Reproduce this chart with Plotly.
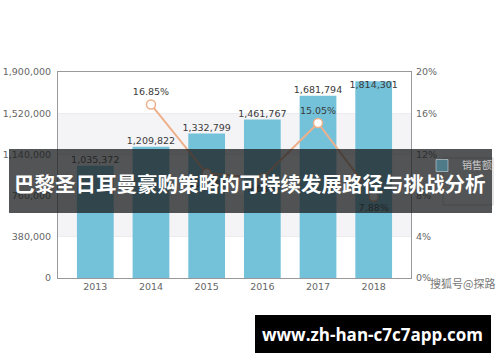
import plotly.graph_objects as go

years = ["2013", "2014", "2015", "2016", "2017", "2018"]
sales = [1035372, 1209822, 1332799, 1461767, 1681794, 1814301]
growth = [None, 0.1685, 0.1016, 0.0968, 0.1505, 0.0788]
sales_ticks = [0, 380000, 760000, 1140000, 1520000, 1900000]
growth_ticks = [0, 0.04, 0.08, 0.12, 0.16, 0.20]
bar_label_pos = ["top center"] * 5 + ["bottom center"]
line_label_pos = ["top center", "top center", "bottom center", "bottom center", "top center", "bottom center"]
title_text = "巴黎圣日耳曼豪购策略的可持续发展路径与挑战分析"
site_text = "www.zh-han-c7c7app.com"
watermark_text = "搜狐号@探路"
legend_name = "销售额"

W, H = 500, 362
L, R, T, B = 58, 89, 72, 84
PW, PH = W - L - R, H - T - B

def px(x):
    return (x - L) / PW

def py(y):
    return (H - B - y) / PH

lab_font = dict(family="DejaVu Sans", size=9.5, color="#3a3a3a")
tick_font = dict(family="DejaVu Sans", size=9.5, color="#666666")

fig = go.Figure()
fig.add_trace(go.Bar(
    x=years, y=sales, name=legend_name, marker=dict(color="#74c2da", line=dict(width=0)),
    width=0.66, yaxis="y", hoverinfo="skip", showlegend=False,
))
# legend-only entry (appears dimmed under the banner in the reference)
fig.add_trace(go.Bar(
    x=[None], y=[None], name=legend_name, marker=dict(color="#4f7a88"),
    yaxis="y", hoverinfo="skip", showlegend=True,
))
fig.add_trace(go.Scatter(
    x=years, y=sales, mode="text", text=[f"{v:,}" for v in sales],
    textposition=bar_label_pos, textfont=lab_font, showlegend=False,
    yaxis="y", cliponaxis=False, hoverinfo="skip",
))
fig.add_trace(go.Scatter(
    x=years, y=growth, name="增长率", mode="lines+markers+text",
    line=dict(color="#eeb08a", width=2),
    marker=dict(symbol="circle", size=9, color="white", line=dict(color="#eeb08a", width=1.5)),
    text=[("" if g is None else f"{g*100:.2f}%") for g in growth],
    textposition=line_label_pos, textfont=lab_font, yaxis="y2",
    cliponaxis=False, hoverinfo="skip", showlegend=False,
))

shapes = []
# alternating bands
for i in range(len(sales_ticks) - 1):
    if i % 2 == 1:
        shapes.append(dict(type="rect", xref="paper", yref="y", x0=0, x1=1,
                           y0=sales_ticks[i], y1=sales_ticks[i + 1],
                           fillcolor="#f4f4f7", line=dict(width=0), layer="below"))
# legend box
shapes.append(dict(type="rect", xref="paper", yref="paper", x0=px(443), x1=px(493),
                   y0=py(205), y1=py(158), fillcolor="rgba(255,255,255,0)",
                   line=dict(color="#cccccc", width=1), layer="above"))
# banner
shapes.append(dict(type="rect", xref="paper", yref="paper", x0=px(9), x1=px(492),
                   y0=py(213), y1=py(149), fillcolor="rgba(28,30,32,0.76)",
                   line=dict(width=0), layer="above"))
# bottom site box
shapes.append(dict(type="rect", xref="paper", yref="paper", x0=px(255), x1=px(491),
                   y0=py(353), y1=py(315), fillcolor="#000000",
                   line=dict(width=0), layer="above"))

annotations = [
    dict(text=title_text, xref="paper", yref="paper", x=px(250), y=py(183),
         xanchor="center", yanchor="middle", showarrow=False,
         font=dict(family="Noto Sans CJK SC", size=20.5, color="white", weight="bold")),
    dict(text=site_text, xref="paper", yref="paper", x=px(372), y=py(334),
         xanchor="center", yanchor="middle", showarrow=False,
         font=dict(family="Open Sans", size=17, color="white", weight="bold")),
    dict(text=watermark_text, xref="paper", yref="paper", x=px(428), y=py(283),
         xanchor="left", yanchor="middle", showarrow=False,
         font=dict(family="Noto Sans CJK SC", size=11, color="#777777")),
]

fig.update_layout(
    width=W, height=H, margin=dict(l=L, r=R, t=T, b=B, pad=0, autoexpand=False),
    paper_bgcolor="white", plot_bgcolor="white",
    bargap=0.34, barmode="overlay", shapes=shapes, annotations=annotations,
    xaxis=dict(type="category", range=[-0.67, 5.67], showline=True, linecolor="#999999",
               linewidth=1, mirror=True, ticks="", tickfont=tick_font, showgrid=False,
               fixedrange=True, automargin=False),
    yaxis=dict(range=[0, 1900000], tickvals=sales_ticks,
               ticktext=[f"{v:,}" for v in sales_ticks], tickfont=tick_font,
               showline=True, linecolor="#999999", linewidth=1, mirror=True,
               showgrid=True, gridcolor="#ececf0", zeroline=False, ticks="",
               ticklabelstandoff=4, automargin=False),
    yaxis2=dict(range=[0, 0.20], tickvals=growth_ticks,
                ticktext=[f"{int(round(v*100))}%" for v in growth_ticks], tickfont=tick_font,
                overlaying="y", side="right", showgrid=False, zeroline=False,
                showline=False, ticks="", ticklabelstandoff=4, automargin=False),
    legend=dict(x=px(422), y=py(151), xanchor="left", yanchor="top",
                borderwidth=0, bgcolor="rgba(255,255,255,0)",
                font=dict(family="Noto Sans CJK SC", size=10, color="#c8c8c8"),
                itemwidth=30),
    showlegend=True,
)

fig.write_html("out.html")
